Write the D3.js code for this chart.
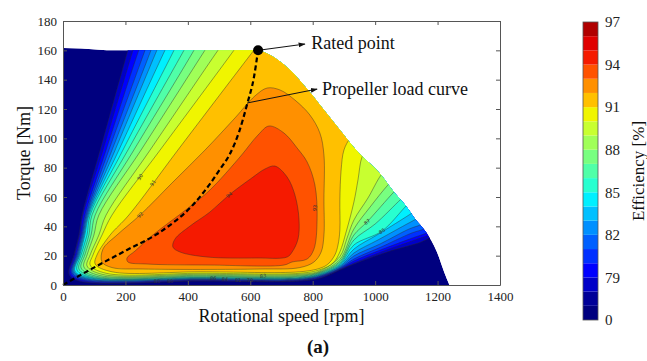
<!DOCTYPE html>
<html>
<head>
<meta charset="utf-8">
<script src="https://cdn.jsdelivr.net/npm/d3@7"></script>
<style>
  body { margin: 0; background: #fff; }
  svg { display: block; }
  text { font-family: "Liberation Serif", "Times New Roman", serif; }
  .axis text { font-size: 13px; fill: #222; }
  .axis path, .axis line { stroke: #555; }
</style>
</head>
<body>
<svg id="chart" width="647" height="361"></svg>
<script>
// ---- values (rpm, Nm) ----
const xTicks = [0, 200, 400, 600, 800, 1000, 1200, 1400];
const yTicks = [0, 20, 40, 60, 80, 100, 120, 140, 160, 180];

const cbBounds = [0, 77, 78, 79, 80, 81, 82, 83, 84, 85, 86, 87, 88, 89, 90, 91, 92, 93, 94, 95, 96, 97];
const cbTicks = [0, 79, 82, 85, 88, 91, 94, 97];
const cbColors = ["#00007f", "#000098", "#0000c8", "#0000ff", "#0030ff", "#0060ff", "#0090ff",
  "#00c0ff", "#00f0ff", "#28ffd0", "#50ffa8", "#78ff80", "#a0ff58", "#c8ff30", "#f0f500",
  "#ffc000", "#ff9000", "#ff5200", "#f51a00", "#e00000", "#b00000"];

// operating envelope (max torque curve)
const envelopeTop = [[0, 0], [0, 161.6], [60, 161.2], [140, 160], [625, 160]];
const envelopeRight = [[625, 160], [657, 157.5], [727, 146.6], [782, 133.6], [836, 119.3], [887, 105.7],
  [939, 92], [1019, 75], [1060, 63.4], [1099, 53.9], [1131, 44.3], [1163, 36.1], [1198, 22.5],
  [1221, 8.9], [1238, 0]];

// contours that run into the envelope: left branch (top to bottom) and right branch (bottom to exit)
const openLevels = [78, 79, 80, 81, 82, 83, 84, 85, 86, 87, 88, 89, 90, 91];
const openLeft = [
  [[221,169.8],[208,160.2],[119,92],[61,47.7],[51,34.1],[35,20.5],[19,7.5],[48,2.9],[439,2.7]],
  [[237,169.8],[224,160.2],[128,92],[64,47.7],[54,34.1],[38,20.5],[22,7.8],[54,3.1],[439,3.1]],
  [[260,169.8],[243,160.2],[138,92],[70,47.7],[58,34.1],[42,20.5],[26,8.2],[61,3.4],[439,3.4]],
  [[279,169.8],[263,160.2],[147,92],[74,47.7],[61,34.1],[45,20.5],[29,8.5],[67,3.75],[439,3.75]],
  [[298,169.8],[282,160.2],[157,92],[77,47.7],[64,34.1],[48,20.5],[32,8.9],[74,4.1],[439,4.1]],
  [[320,169.8],[301,160.2],[167,92],[80,47.7],[67,34.1],[51,20.5],[35,9.2],[80,4.4],[439,4.4]],
  [[349,169.8],[327,160.2],[179,92],[83,47.7],[70,34.1],[54,20.5],[38,9.5],[87,4.8],[439,4.8]],
  [[378,169.8],[356,160.2],[192,92],[87,47.7],[77,34.1],[58,20.5],[45,10.2],[93,5.1],[439,5.1]],
  [[413,169.8],[388,160.2],[208,92],[93,47.7],[83,34.1],[64,20.5],[51,10.9],[99,5.5],[439,5.5]],
  [[445,169.8],[420,160.2],[227,92],[103,47.7],[90,34.1],[70,20.5],[58,11.6],[106,6.0],[439,6.0]],
  [[484,169.8],[455,160.2],[250,92],[115,47.7],[99,34.1],[77,20.5],[67,12.3],[115,6.6],[439,6.6]],
  [[529,169.8],[497,160.2],[279,92],[138,47.7],[115,34.1],[87,20.5],[77,13.0],[125,7.3],[439,7.3]],
  [[580,169.8],[548,160.2],[311,92],[157,47.7],[125,34.1],[96,20.5],[87,13.6],[138,8.0],[439,8.0]],
  [[647,169.8],[612,160.2],[368,92],[211,47.7],[151,34.1],[109,20.5],[103,14.3],[157,9.0],[439,9.0]]
];
const openRight = [
  [[759,2.7],[823,4.6],[887,10.2],[932,14.3],[1038,22.5],[1147,29.3],[1179,32.7],[1214,36.1]],
  [[759,3.1],[823,5.0],[887,10.6],[932,15.0],[1032,23.5],[1137,31.4],[1173,34.1],[1208,37.5]],
  [[759,3.4],[823,5.5],[887,10.9],[932,16.4],[1025,24.5],[1128,32.7],[1166,35.5],[1201,38.9]],
  [[759,3.75],[823,5.9],[887,11.4],[932,17.7],[1019,25.9],[1118,35.5],[1157,38.2],[1192,42.3]],
  [[759,4.1],[823,6.3],[887,11.9],[932,19.8],[1016,28.0],[1109,38.2],[1144,40.9],[1179,45.0]],
  [[759,4.4],[823,6.7],[887,12.6],[932,21.8],[1009,30.7],[1096,40.9],[1131,45.0],[1163,49.8]],
  [[759,4.8],[823,7.1],[887,13.3],[932,24.5],[1006,34.1],[1083,44.3],[1118,49.1],[1150,53.9]],
  [[759,5.1],[823,7.5],[887,14.0],[932,27.3],[1022,36.8],[1102,54.5],[1134,60.7]],
  [[759,5.5],[823,8.0],[887,15.0],[932,30.7],[1000,41.6],[1083,58.6],[1115,64.8]],
  [[759,6.0],[823,8.5],[887,16.0],[932,34.1],[974,43.0],[1060,63.4],[1089,69.5]],
  [[759,6.6],[823,9.0],[887,17.4],[932,38.2],[984,53.2],[1041,68.2],[1070,74.3]],
  [[759,7.3],[823,9.6],[887,19.4],[910,32.0],[932,44.3],[977,59.3],[1019,75.0],[1044,80.5]],
  [[759,8.0],[823,10.4],[865,15.0],[887,22.5],[907,36.1],[932,56.6],[945,71.6],[958,87.3],[977,93.4]],
  [[759,9.0],[823,11.4],[849,14.3],[871,20.5],[881,27.3],[887,37.5],[887,58.0],[891,78.4],[900,92.0],[920,100.2],[945,105.7]]
];

// closed islands of high efficiency
const closedLevels = [92, 93, 94];
const closedShapes = [
  [[654,134.3],[695,133.0],[743,126.1],[791,115.9],[823,103.6],[836,88.6],[836,58.0],[836,34.1],
   [827,22.5],[804,15.7],[759,11.9],[631,10.9],[256,10.9],[157,11.9],[125,15.7],[128,24.5],
   [173,34.1],[247,47.7],[349,69.5],[455,92.0],[551,113.9],[615,128.9]],
  [[660,108.4],[708,103.6],[750,93.4],[782,83.9],[807,68.2],[814,45.0],[804,24.5],[782,17.7],
   [734,15.7],[708,13.6],[471,13.6],[269,14.3],[208,15.7],[205,18.4],[231,23.2],[288,34.1],
   [397,51.8],[471,64.8],[567,87.3],[625,102.3]],
  [[679,81.1],[718,73.6],[743,61.4],[756,45.0],[753,31.4],[734,22.5],[718,19.1],[622,18.4],
   [461,19.1],[375,22.5],[352,25.9],[359,31.4],[407,40.2],[471,49.8],[532,61.4],[605,73.0],[647,79.1]]
];

const loadCurve = [[0,0],[96,11.5],[205,23.9],[311,36.1],[416,54.6],[471,69],[503,78.9],
  [535,89.5],[564,104.3],[590,123.4],[612,142],[625,160.2]];
const ratedPoint = [625, 160];

const contourLabels = [
  ["90", 247, 73.6, -54], ["91", 288, 69.5, -54], ["92", 247, 47.7, -48], ["94", 532, 61.4, -38],
  ["93", 807, 52.5, -85], ["87", 974, 43, -40], ["85", 1022, 36.8, -32],
  ["80", 301, 2.7, 0], ["80", 343, 2.4, 0], ["86", 481, 4.8, 0], ["84", 519, 4.1, 0],
  ["81", 561, 3.4, 0], ["79", 599, 2.9, 0], ["83", 641, 6.1, -10]
];

// ---- drawing ----
const svg = d3.select("#chart");
const x = d3.scaleLinear().domain([0, 1400]).range([63, 500]);
const y = d3.scaleLinear().domain([0, 180]).range([285, 21]);

const px = d => x(d[0]), py = d => y(d[1]);
const envRight = d3.line().x(px).y(py).curve(d3.curveMonotoneX)(envelopeRight);
const envPath = "M" + envelopeTop.map(d => px(d) + "," + py(d)).join("L") + "L" + envRight.slice(1) + "Z";

const defs = svg.append("defs");
defs.append("clipPath").attr("id", "env").append("path").attr("d", envPath);
defs.append("marker").attr("id", "arrow")
  .attr("viewBox", "0 0 10 10").attr("refX", 9).attr("refY", 5)
  .attr("markerWidth", 7).attr("markerHeight", 7).attr("orient", "auto")
  .attr("markerUnits", "userSpaceOnUse")
  .append("path").attr("d", "M0,1.5 L10,5 L0,8.5 Z").attr("fill", "#111");

const colorOf = L => cbColors[cbBounds.indexOf(L)];
const map = svg.append("g").attr("clip-path", "url(#env)");
map.append("path").attr("d", envPath).attr("fill", cbColors[0]);

const smooth = d3.line().x(px).y(py).curve(d3.curveCatmullRom.alpha(0.5));
function openPath(left, right) {
  const pts = left.concat(right);
  const first = pts[0], last = pts[pts.length - 1];
  return smooth(pts) + "L" + x(1500) + "," + y(last[1]) + "L" + x(1500) + "," + y(190) +
    "L" + x(first[0]) + "," + y(190) + "Z";
}

openLevels.forEach((L, i) => {
  map.append("path")
    .attr("d", openPath(openLeft[i], openRight[i]))
    .attr("fill", colorOf(L))
    .attr("stroke", "#2a2a2a").attr("stroke-width", 0.5).attr("stroke-opacity", 0.85);
});

const closedLine = d3.line().x(px).y(py).curve(d3.curveCatmullRomClosed.alpha(0.5));
closedLevels.forEach((L, i) => {
  map.append("path")
    .attr("d", closedLine(closedShapes[i]))
    .attr("fill", colorOf(L))
    .attr("stroke", "#2a2a2a").attr("stroke-width", 0.5).attr("stroke-opacity", 0.85);
});

map.selectAll(".clabel").data(contourLabels).enter().append("text")
  .attr("class", "clabel")
  .attr("transform", d => "translate(" + x(d[1]) + "," + y(d[2]) + ") rotate(" + d[3] + ")")
  .attr("text-anchor", "middle").attr("dy", "0.35em")
  .style("font-family", "DejaVu Sans, sans-serif").style("font-size", "5px").attr("fill", "#333")
  .text(d => d[0]);

// propeller load curve
svg.append("path")
  .attr("d", d3.line().x(px).y(py).curve(d3.curveMonotoneX)(loadCurve))
  .attr("fill", "none").attr("stroke", "#000").attr("stroke-width", 2.2)
  .attr("stroke-dasharray", "5,3");

// axes (MATLAB style box, ticks inside)
const fmt = d3.format("d");
const serif = "Liberation Serif, Times New Roman, serif";
svg.append("g").attr("class", "axis").attr("transform", "translate(0,285)")
  .call(d3.axisBottom(x).tickValues(xTicks).tickFormat(fmt).tickSize(-4).tickPadding(7).tickSizeOuter(0))
  .attr("font-family", serif);
svg.append("g").attr("class", "axis").attr("transform", "translate(63,0)")
  .call(d3.axisLeft(y).tickValues(yTicks).tickFormat(fmt).tickSize(-4).tickPadding(6).tickSizeOuter(0))
  .attr("font-family", serif);
svg.append("g").attr("class", "axis").attr("transform", "translate(0,21)")
  .call(d3.axisTop(x).tickValues(xTicks).tickSize(-4).tickFormat("").tickSizeOuter(0));
svg.append("g").attr("class", "axis").attr("transform", "translate(500,0)")
  .call(d3.axisRight(y).tickValues(yTicks).tickSize(-4).tickFormat("").tickSizeOuter(0));
svg.selectAll(".axis .domain").attr("stroke", "#555");

svg.append("text").attr("x", x(700)).attr("y", 322).attr("text-anchor", "middle")
  .style("font-size", "18px").attr("fill", "#111").text("Rotational speed [rpm]");
svg.append("text").attr("transform", "translate(30," + y(90) + ") rotate(-90)")
  .attr("text-anchor", "middle").style("font-size", "18px").attr("fill", "#111").text("Torque [Nm]");
svg.append("text").attr("x", 318).attr("y", 353).attr("text-anchor", "middle")
  .style("font-size", "19px").style("font-weight", "bold").attr("fill", "#111").text("(a)");

// rated point and annotations
svg.append("line")
  .attr("x1", x(ratedPoint[0])).attr("y1", y(ratedPoint[1]))
  .attr("x2", x(775)).attr("y2", y(164.3))
  .attr("stroke", "#111").attr("stroke-width", 1).attr("marker-end", "url(#arrow)");
svg.append("circle").attr("cx", x(ratedPoint[0])).attr("cy", y(ratedPoint[1])).attr("r", 5).attr("fill", "#000");
svg.append("text").attr("x", x(795)).attr("y", 49).style("font-size", "18px").attr("fill", "#111").text("Rated point");

svg.append("line")
  .attr("x1", x(590)).attr("y1", y(124.1))
  .attr("x2", x(814)).attr("y2", y(133.6))
  .attr("stroke", "#111").attr("stroke-width", 1).attr("marker-end", "url(#arrow)");
svg.append("text").attr("x", x(830)).attr("y", 95).style("font-size", "18px").attr("fill", "#111").text("Propeller load curve");

// colorbar
const cb = d3.scaleLinear().domain([0, cbBounds.length - 1]).range([320, 22]);
const cbg = svg.append("g");
cbg.selectAll("rect").data(cbColors).enter().append("rect")
  .attr("x", 583).attr("width", 15)
  .attr("y", (d, i) => cb(i + 1)).attr("height", (d, i) => cb(i) - cb(i + 1))
  .attr("fill", d => d);
cbg.append("rect").attr("x", 583).attr("y", 22).attr("width", 15).attr("height", 298)
  .attr("fill", "none").attr("stroke", "#555").attr("stroke-width", 0.8);
cbg.selectAll(".cbt").data(cbTicks).enter().append("text")
  .attr("class", "cbt")
  .attr("x", 605).attr("y", d => cb(cbBounds.indexOf(d))).attr("dy", "0.35em")
  .style("font-size", "15px").attr("fill", "#222").text(d => d);
cbg.append("text").attr("transform", "translate(644,171) rotate(-90)")
  .attr("text-anchor", "middle").style("font-size", "17px").attr("fill", "#111").text("Efficiency [%]");
</script>
</body>
</html>
